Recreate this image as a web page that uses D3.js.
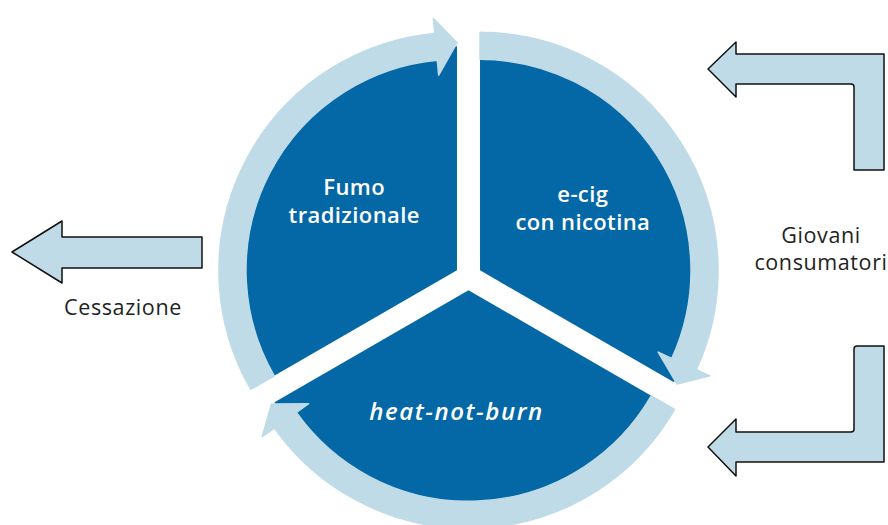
<!DOCTYPE html>
<html>
<head>
<meta charset="utf-8">
<script src="https://cdn.jsdelivr.net/npm/d3@7"></script>
<style>
  html, body { margin: 0; padding: 0; background: #fff; }
  svg { display: block; }
</style>
</head>
<body>
<svg id="chart" width="888" height="525"></svg>
<script>
// Sectors of the cycle, clockwise from the top
const sectors = ["e-cig", "heat-not-burn", "Fumo"];
const sectorLines = [["e-cig", "con nicotina"], ["heat-not-burn"], ["Fumo", "tradizionale"]];
const sectorItalic = [false, true, false];
const sectorValues = [1, 1, 1];

// Side flows
const sideLabels = [["Cessazione"], ["Giovani", "consumatori"]];

const darkBlue = "#0468a6";
const lightBlue = "#bfdbe8";
const font = "'Open Sans', 'Noto Sans', sans-serif";

const svg = d3.select("#chart");
const cx = 468.5, cy = 277;   // centre of the cycle
const offset = 13.3;          // sectors pulled apart
const rSector = 224;
const rIn = 211, rOut = 238;
const headLen = 21, headWing = 15;

const pie = d3.pie().sort(null).value(d => d);
const arcs = pie(sectorValues);

const arc = d3.arc().innerRadius(0).outerRadius(rSector);

// point at radius r and angle a (0 = up, clockwise)
const pt = (r, a) => [r * Math.sin(a), -r * Math.cos(a)];

const g = svg.append("g").attr("transform", `translate(${cx},${cy})`);

const sector = g.selectAll("g.sector")
  .data(arcs)
  .join("g")
  .attr("class", "sector")
  .attr("transform", d => {
    const [x, y] = pt(offset, (d.startAngle + d.endAngle) / 2);
    return `translate(${x},${y})`;
  });

sector.append("path")
  .attr("d", arc)
  .attr("fill", darkBlue);

// light ring with an arrow head at the clockwise end
function ringPath(d) {
  const a0 = d.startAngle, a1 = d.endAngle;
  const rMid = (rIn + rOut) / 2;
  const ah = a1 - headLen / rMid;
  const p = d3.path();
  const s = a => a - Math.PI / 2;
  let q = pt(rOut, a0);
  p.moveTo(q[0], q[1]);
  p.arc(0, 0, rOut, s(a0), s(ah));
  q = pt(rOut + headWing, ah); p.lineTo(q[0], q[1]);
  q = pt(rMid + 3, a1); p.lineTo(q[0], q[1]);
  q = pt(rIn - headWing, ah); p.lineTo(q[0], q[1]);
  q = pt(rIn, ah); p.lineTo(q[0], q[1]);
  p.arc(0, 0, rIn, s(ah), s(a0), true);
  p.closePath();
  return p.toString();
}

sector.append("path")
  .attr("d", ringPath)
  .attr("fill", lightBlue)
  .attr("stroke", lightBlue)
  .attr("stroke-width", 1.5)
  .attr("stroke-linejoin", "round");

// sector labels (small nudges to sit like the original)
const labelR = 132;
const labelNudge = [[0, -2.5], [-12, 4], [0, -9]];
g.selectAll("text.sector-label")
  .data(arcs)
  .join("text")
  .attr("class", "sector-label")
  .attr("transform", (d, i) => {
    const [x, y] = pt(labelR, (d.startAngle + d.endAngle) / 2);
    return `translate(${x + labelNudge[i][0]},${y + labelNudge[i][1]})`;
  })
  .attr("text-anchor", "middle")
  .style("font-family", font)
  .style("font-size", (d, i) => sectorItalic[i] ? "24px" : "22px")
  .style("letter-spacing", (d, i) => sectorItalic[i] ? "1.6px" : "0.4px")
  .style("font-weight", 600)
  .style("font-style", (d, i) => sectorItalic[i] ? "italic" : "normal")
  .attr("fill", "#fff")
  .each(function(d, i) {
    const lines = sectorLines[i];
    const lh = 28;
    d3.select(this).selectAll("tspan")
      .data(lines)
      .join("tspan")
      .attr("x", 0)
      .attr("y", (l, j) => (j - (lines.length - 1) / 2) * lh + 7)
      .text(l => l);
  });

// block arrows at the sides
const arrowStyle = sel => sel
  .attr("fill", lightBlue)
  .attr("stroke", "#111")
  .attr("stroke-width", 1.5)
  .attr("stroke-linejoin", "round");

// left: Cessazione
const left = d3.path();
left.moveTo(12, 252);
left.lineTo(62, 221); left.lineTo(62, 237); left.lineTo(202, 237);
left.lineTo(202, 268); left.lineTo(62, 268); left.lineTo(62, 283);
left.closePath();
svg.append("path").attr("d", left.toString()).call(arrowStyle);

// right, upper L arrow
const up = d3.path();
up.moveTo(708, 69);
up.lineTo(736, 42); up.lineTo(736, 54); up.lineTo(884, 54);
up.lineTo(884, 170); up.lineTo(854, 170); up.lineTo(854, 87);
up.quadraticCurveTo(854, 84, 851, 84);
up.lineTo(736, 84); up.lineTo(736, 97);
up.closePath();
svg.append("path").attr("d", up.toString()).call(arrowStyle);

// right, lower L arrow
const low = d3.path();
low.moveTo(708, 447);
low.lineTo(736, 419); low.lineTo(736, 432); low.lineTo(851, 432);
low.quadraticCurveTo(854, 432, 854, 429);
low.lineTo(854, 349); low.quadraticCurveTo(854, 346, 857, 346);
low.lineTo(884, 346); low.lineTo(884, 462); low.lineTo(736, 462);
low.lineTo(736, 476);
low.closePath();
svg.append("path").attr("d", low.toString()).call(arrowStyle);

// side labels
const sidePos = [[123, 315], [821, 243]];
sideLabels.forEach((lines, i) => {
  const t = svg.append("text")
    .attr("text-anchor", "middle")
    .style("font-family", font)
    .style("font-size", "21.5px")
    .style("letter-spacing", "0.6px")
    .attr("fill", "#222");
  t.selectAll("tspan")
    .data(lines)
    .join("tspan")
    .attr("x", sidePos[i][0])
    .attr("y", (l, j) => sidePos[i][1] + j * 27)
    .text(l => l);
});
</script>
</body>
</html>
